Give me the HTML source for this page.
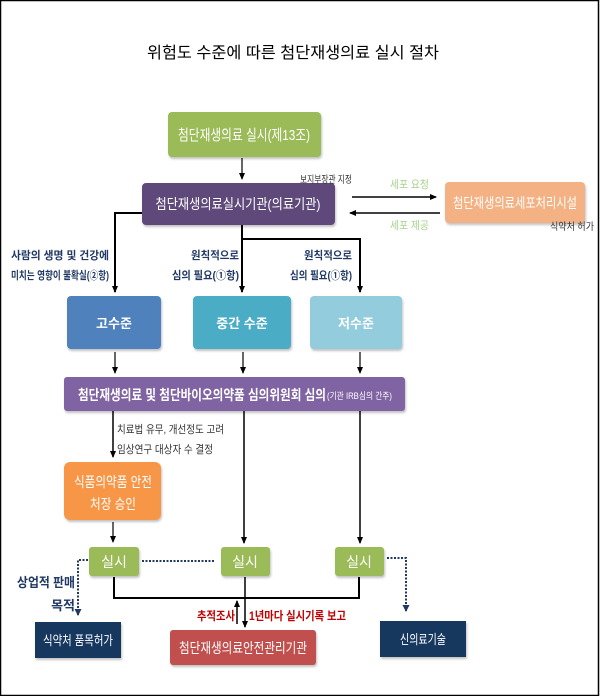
<!DOCTYPE html>
<html><head><meta charset="utf-8"><style>
html,body{margin:0;padding:0;background:#fff}
svg{display:block}
text{font-family:"Liberation Sans","Noto Sans CJK KR","NanumGothic",sans-serif}
</style></head><body>
<svg width="600" height="696" viewBox="0 0 600 696" xmlns="http://www.w3.org/2000/svg">
<defs>
<marker id="a" markerWidth="8" markerHeight="8" refX="6" refY="4" orient="auto" markerUnits="userSpaceOnUse"><path d="M0,1 L7,4 L0,7 Z" fill="#000"/></marker>
<marker id="b" markerWidth="8" markerHeight="8" refX="6" refY="4" orient="auto" markerUnits="userSpaceOnUse"><path d="M0,0.5 L7,4 L0,7.5 Z" fill="#1f3864"/></marker>
<filter id="s" x="-10%" y="-10%" width="120%" height="130%"><feDropShadow dx="1" dy="2" stdDeviation="1" flood-color="#999" flood-opacity="0.6"/></filter>
</defs>
<rect x="0.5" y="0.5" width="598" height="695" fill="#fff" stroke="#000" stroke-width="1.5"/>
<text x="293" y="58" font-size="16" text-anchor="middle" textLength="292" lengthAdjust="spacingAndGlyphs">위험도 수준에 따른 첨단재생의료 실시 절차</text>

<!-- top green -->
<rect x="168" y="112" width="153" height="45" rx="4" fill="#9bbb59" filter="url(#s)"/>
<text x="244" y="140" font-size="15" fill="#fff" text-anchor="middle" textLength="132" lengthAdjust="spacingAndGlyphs">첨단재생의료 실시(제13조)</text>
<line x1="242" y1="158" x2="242" y2="179" stroke="#000" stroke-width="1.2" marker-end="url(#a)"/>

<!-- purple -->
<rect x="142" y="183" width="193" height="42" rx="4" fill="#5f497a" filter="url(#s)"/>
<text x="238" y="209" font-size="14" fill="#fff" text-anchor="middle" textLength="165" lengthAdjust="spacingAndGlyphs">첨단재생의료실시기관(의료기관)</text>
<text x="300" y="183" font-size="10" fill="#333" textLength="52" lengthAdjust="spacingAndGlyphs">보지부장관 지정</text>

<line x1="352" y1="197" x2="436" y2="197" stroke="#000" stroke-width="1.5" marker-end="url(#a)"/>
<line x1="440" y1="213" x2="350" y2="213" stroke="#000" stroke-width="1.5" marker-end="url(#a)"/>
<text x="390" y="188" font-size="11" fill="#a9d18e" textLength="39" lengthAdjust="spacingAndGlyphs">세포 요청</text>
<text x="390" y="229" font-size="11" fill="#a9d18e" textLength="39" lengthAdjust="spacingAndGlyphs">세포 제공</text>

<rect x="445" y="182" width="140" height="41" rx="4" fill="#f4b183" filter="url(#s)"/>
<text x="515" y="208" font-size="14" fill="#fff" text-anchor="middle" textLength="124" lengthAdjust="spacingAndGlyphs">첨단재생의료세포처리시설</text>
<text x="550" y="230" font-size="10" fill="#333" textLength="44" lengthAdjust="spacingAndGlyphs">식약처 허가</text>

<!-- branches -->
<polyline points="142,213 115,213 115,292" fill="none" stroke="#000" stroke-width="2" marker-end="url(#a)"/>
<line x1="242" y1="225" x2="242" y2="292" stroke="#000" stroke-width="2" marker-end="url(#a)"/>
<polyline points="242,239 360,239 360,292" fill="none" stroke="#000" stroke-width="2" marker-end="url(#a)"/>
<text x="109" y="259" font-size="11" fill="#1f3864" text-anchor="end" textLength="98" lengthAdjust="spacingAndGlyphs" font-weight="bold">사람의 생명 및 건강에</text>
<text x="109" y="279" font-size="11" fill="#1f3864" text-anchor="end" textLength="98" lengthAdjust="spacingAndGlyphs" font-weight="bold">미치는 영향이 불확실(②항)</text>
<text x="239" y="259" font-size="11" fill="#1f3864" text-anchor="end" textLength="48" lengthAdjust="spacingAndGlyphs" font-weight="bold">원칙적으로</text>
<text x="239" y="279" font-size="11" fill="#1f3864" text-anchor="end" textLength="67" lengthAdjust="spacingAndGlyphs" font-weight="bold">심의 필요(①항)</text>
<text x="352" y="259" font-size="11" fill="#1f3864" text-anchor="end" textLength="48" lengthAdjust="spacingAndGlyphs" font-weight="bold">원칙적으로</text>
<text x="352" y="279" font-size="11" fill="#1f3864" text-anchor="end" textLength="62" lengthAdjust="spacingAndGlyphs" font-weight="bold">심의 필요(①항)</text>

<rect x="67" y="296" width="94" height="53" rx="4" fill="#4f81bd" filter="url(#s)"/>
<text x="114" y="328" font-size="13" fill="#fff" text-anchor="middle" font-weight="bold">고수준</text>
<rect x="193" y="296" width="98" height="53" rx="4" fill="#4bacc6" filter="url(#s)"/>
<text x="242" y="328" font-size="13" fill="#fff" text-anchor="middle" font-weight="bold">중간 수준</text>
<rect x="310" y="296" width="92" height="53" rx="4" fill="#93cddd" filter="url(#s)"/>
<text x="356" y="328" font-size="13" fill="#fff" text-anchor="middle" font-weight="bold">저수준</text>

<line x1="115" y1="352" x2="115" y2="373" stroke="#000" stroke-width="1.2" marker-end="url(#a)"/>
<line x1="243" y1="352" x2="243" y2="373" stroke="#000" stroke-width="1.2" marker-end="url(#a)"/>
<line x1="360" y1="352" x2="360" y2="373" stroke="#000" stroke-width="1.2" marker-end="url(#a)"/>

<rect x="64" y="377" width="341" height="34" rx="3" fill="#8064a2" filter="url(#s)"/>
<text x="78" y="400" font-size="14" fill="#fff" textLength="248" lengthAdjust="spacingAndGlyphs" font-weight="bold">첨단재생의료 및 첨단바이오의약품 심의위원회 심의</text>
<text x="327" y="399" font-size="9" fill="#fff" textLength="65" lengthAdjust="spacingAndGlyphs">(기관 IRB심의 간주)</text>

<line x1="113" y1="411" x2="113" y2="457" stroke="#000" stroke-width="1.5" marker-end="url(#a)"/>
<line x1="244" y1="411" x2="244" y2="543" stroke="#000" stroke-width="1.5" marker-end="url(#a)"/>
<line x1="360" y1="411" x2="360" y2="543" stroke="#000" stroke-width="1.5" marker-end="url(#a)"/>
<text x="117" y="433" font-size="11" fill="#333" textLength="107" lengthAdjust="spacingAndGlyphs">치료법 유무, 개선정도 고려</text>
<text x="117" y="453" font-size="11" fill="#333" textLength="96" lengthAdjust="spacingAndGlyphs">임상연구 대상자 수 결정</text>

<rect x="64" y="462" width="97" height="58" rx="6" fill="#f79646" filter="url(#s)"/>
<text x="113" y="487" font-size="14" fill="#fff" text-anchor="middle" textLength="78" lengthAdjust="spacingAndGlyphs">식품의약품 안전</text>
<text x="113" y="509" font-size="14" fill="#fff" text-anchor="middle" textLength="46" lengthAdjust="spacingAndGlyphs">처장 승인</text>
<line x1="113" y1="522" x2="113" y2="542" stroke="#000" stroke-width="1.2" marker-end="url(#a)"/>

<rect x="89" y="547" width="50" height="29" rx="3" fill="#9bbb59" filter="url(#s)"/>
<text x="114" y="567" font-size="14" fill="#fff" text-anchor="middle">실시</text>
<rect x="221" y="547" width="49" height="29" rx="3" fill="#9bbb59" filter="url(#s)"/>
<text x="245" y="567" font-size="14" fill="#fff" text-anchor="middle">실시</text>
<rect x="335" y="547" width="49" height="29" rx="3" fill="#9bbb59" filter="url(#s)"/>
<text x="359" y="567" font-size="14" fill="#fff" text-anchor="middle">실시</text>

<line x1="142" y1="561" x2="214" y2="561" stroke="#1f3864" stroke-width="2" stroke-dasharray="2,1.5"/>
<polyline points="88,560 78,560 78,615" fill="none" stroke="#1f3864" stroke-width="2" stroke-dasharray="2,1.5" marker-end="url(#b)"/>
<polyline points="387,558 406,558 406,611" fill="none" stroke="#1f3864" stroke-width="2" stroke-dasharray="2,1.5" marker-end="url(#b)"/>
<text x="75" y="587" font-size="13" fill="#1f3864" text-anchor="end" textLength="58" lengthAdjust="spacingAndGlyphs" font-weight="bold">상업적 판매</text>
<text x="75" y="610" font-size="13" fill="#1f3864" text-anchor="end" font-weight="bold">목적</text>

<polyline points="114,577 114,598 359,598 359,577" fill="none" stroke="#000" stroke-width="2"/>
<line x1="245" y1="577" x2="245" y2="627" stroke="#000" stroke-width="1.5" marker-end="url(#a)"/>
<line x1="237" y1="624" x2="237" y2="601" stroke="#000" stroke-width="1.5" marker-end="url(#a)"/>
<text x="197" y="620" font-size="12" fill="#c00000" textLength="38" lengthAdjust="spacingAndGlyphs" font-weight="bold">추적조사</text>
<text x="249" y="620" font-size="12" fill="#c00000" textLength="97" lengthAdjust="spacingAndGlyphs" font-weight="bold">1년마다 실시기록 보고</text>

<rect x="35" y="622" width="86" height="36" fill="#17375e" filter="url(#s)"/>
<text x="78" y="645" font-size="13" fill="#fff" text-anchor="middle" textLength="70" lengthAdjust="spacingAndGlyphs">식약처 품목허가</text>
<rect x="170" y="630" width="146" height="35" rx="3" fill="#c0504d" filter="url(#s)"/>
<text x="243" y="653" font-size="14" fill="#fff" text-anchor="middle" textLength="128" lengthAdjust="spacingAndGlyphs">첨단재생의료안전관리기관</text>
<rect x="380" y="621" width="86" height="36" fill="#17375e" filter="url(#s)"/>
<text x="423" y="644" font-size="13" fill="#fff" text-anchor="middle" textLength="46" lengthAdjust="spacingAndGlyphs">신의료기술</text>
</svg>
</body></html>
